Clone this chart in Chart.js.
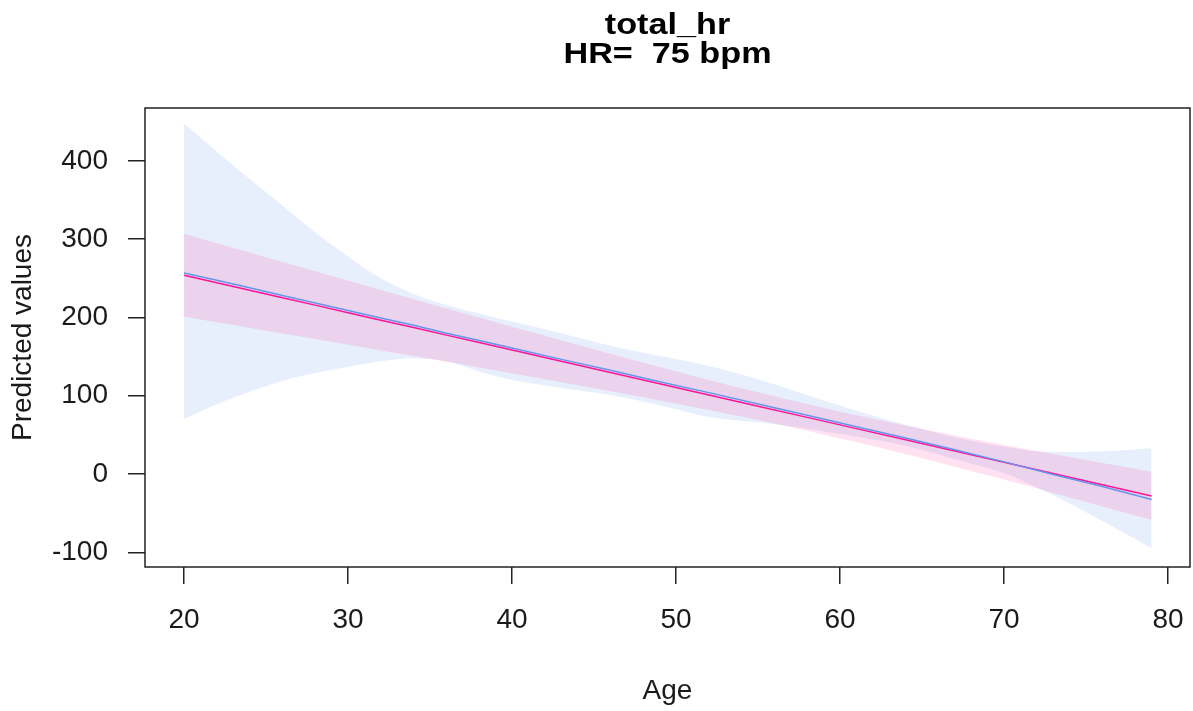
<!DOCTYPE html>
<html>
<head>
<meta charset="utf-8">
<title>total_hr</title>
<script src="https://cdn.jsdelivr.net/npm/chart.js@4.4.1/dist/chart.umd.min.js"></script>
<style>
    html, body { margin: 0; padding: 0; background: #ffffff; }
    canvas { display: block; }
</style>
</head>
<body>
<canvas id="chart" width="1193" height="711"></canvas>
<script>
// Ages where the fitted curves are evaluated
const ages = [20, 22, 24, 26, 28, 30, 32, 34, 36, 38, 40, 43, 46, 49, 52, 55, 58, 61, 64, 67, 70, 73, 76, 79];

// Smooth (spline) fit with its confidence band
const smoothFit = [257, 247.5, 238, 228, 218.5, 209, 199.5, 190, 180, 170.5, 161, 146.5, 132.5, 118, 104, 89.5, 75, 60.5, 46, 31, 15.5, -0.5, -16, -32.5];
const smoothHi  = [448, 412, 377, 343, 309, 278, 250, 230, 216, 205, 195, 180, 164, 151, 138, 121, 101, 81, 63, 47, 35, 28, 29, 33];
const smoothLo  = [70, 89, 105, 119, 129, 137, 144, 148, 144, 131, 120, 110, 101, 88, 73, 66, 58, 48, 36, 19, 1, -27, -60, -95];

// Linear fit with its confidence band
const linFit = [254, 244.4, 234.9, 225.3, 215.8, 206.2, 196.6, 187.1, 177.5, 168, 158.4, 144.1, 129.7, 115.4, 101, 86.7, 72.4, 58, 43.7, 29.3, 15, 0.7, -13.7, -28];
const linHi  = [307, 295, 283.1, 271, 259.2, 247.2, 235.3, 223.5, 211.6, 199.9, 188.2, 170.8, 153.6, 136.7, 120.2, 104.5, 89.5, 75.2, 61.9, 49.2, 37.1, 25.5, 14, 2.9];
const linLo  = [201, 193.8, 186.7, 179.6, 172.4, 165.2, 157.9, 150.7, 143.4, 136.1, 128.6, 117.4, 105.8, 94.1, 81.8, 68.9, 55.4, 40.8, 25.5, 9.4, -7.1, -24.1, -41.4, -58.9];

// Axis ticks
const xTicks = [20, 30, 40, 50, 60, 70, 80];
const yTicks = [-100, 0, 100, 200, 300, 400];

const titleLines = ['total_hr', 'HR=  75 bpm'];

const FONT = '"Liberation Sans", Arial, sans-serif';
const BLUE = '#6495ED';
const PINK = '#FF1493';

function pts(ys) {
    return ages.map((a, i) => ({ x: a, y: ys[i] }));
}

function band(ys, fill, order) {
    return {
        data: pts(ys),
        borderWidth: 0,
        pointRadius: 0,
        backgroundColor: fill,
        fill: fill ? '+1' : false,
        cubicInterpolationMode: 'monotone',
        order: order
    };
}

// R-style box around the plotting region
const boxPlugin = {
    id: 'box',
    afterDatasetsDraw(chart) {
        const { ctx, chartArea: a } = chart;
        ctx.save();
        ctx.strokeStyle = '#222';
        ctx.lineWidth = 1.5;
        ctx.strokeRect(a.left, a.top, a.right - a.left, a.bottom - a.top);
        ctx.restore();
    }
};

// Two-line bold heading, a little wider than the plain font
const headingPlugin = {
    id: 'heading',
    afterDraw(chart) {
        const { ctx, chartArea: a } = chart;
        const cx = (a.left + a.right) / 2;
        const baselines = [34, 63];
        ctx.save();
        ctx.fillStyle = '#000';
        ctx.font = 'bold 30px ' + FONT;
        ctx.textAlign = 'center';
        ctx.textBaseline = 'alphabetic';
        titleLines.forEach((t, i) => {
            ctx.save();
            ctx.translate(cx, baselines[i]);
            ctx.scale(1.14, 1);
            ctx.fillText(t, 0, 0);
            ctx.restore();
        });
        ctx.restore();
    }
};

const ctx = document.getElementById('chart').getContext('2d');
new Chart(ctx, {
    type: 'line',
    data: {
        datasets: [
            { data: pts(smoothFit), borderColor: BLUE, borderWidth: 1.5, pointRadius: 0, fill: false, order: 1 },
            { data: pts(linFit), borderColor: PINK, borderWidth: 1.5, pointRadius: 0, fill: false, order: 2 },
            band(linHi, 'rgba(255, 20, 147, 0.13)', 3),
            band(linLo, null, 3),
            band(smoothHi, 'rgba(100, 149, 237, 0.15)', 5),
            band(smoothLo, null, 5)
        ]
    },
    options: {
        responsive: false,
        devicePixelRatio: 1,
        animation: false,
        layout: { padding: { top: 108, right: 3, left: 0, bottom: 0 } },
        plugins: {
            legend: { display: false },
            tooltip: { enabled: false }
        },
        scales: {
            x: {
                type: 'linear',
                min: 17.62,
                max: 81.34,
                afterBuildTicks: s => { s.ticks = xTicks.map(v => ({ value: v })); },
                afterFit: s => {
                    s.height = 144;
                    s.paddingLeft = 0;
                    s.paddingRight = 0;
                },
                ticks: {
                    font: { family: FONT, size: 28 },
                    color: '#1a1a1a',
                    padding: 19,
                    maxRotation: 0,
                    autoSkip: false
                },
                grid: { drawOnChartArea: false, drawTicks: true, tickLength: 17, color: '#222', lineWidth: 1.5 },
                border: { display: false },
                title: {
                    display: true,
                    text: 'Age',
                    color: '#1a1a1a',
                    font: { family: FONT, size: 28 },
                    padding: { top: 0, bottom: 3 }
                }
            },
            y: {
                type: 'linear',
                min: -118.8,
                max: 467.7,
                afterBuildTicks: s => { s.ticks = yTicks.map(v => ({ value: v })); },
                afterFit: s => {
                    s.width = 145;
                    s.paddingTop = 0;
                    s.paddingBottom = 0;
                },
                ticks: {
                    font: { family: FONT, size: 28 },
                    color: '#1a1a1a',
                    padding: 20
                },
                grid: { drawOnChartArea: false, drawTicks: true, tickLength: 17, color: '#222', lineWidth: 1.5 },
                border: { display: false },
                title: {
                    display: true,
                    text: 'Predicted values',
                    color: '#1a1a1a',
                    font: { family: FONT, size: 28 },
                    padding: { top: 6, bottom: 0 }
                }
            }
        }
    },
    plugins: [boxPlugin, headingPlugin]
});
</script>
</body>
</html>
